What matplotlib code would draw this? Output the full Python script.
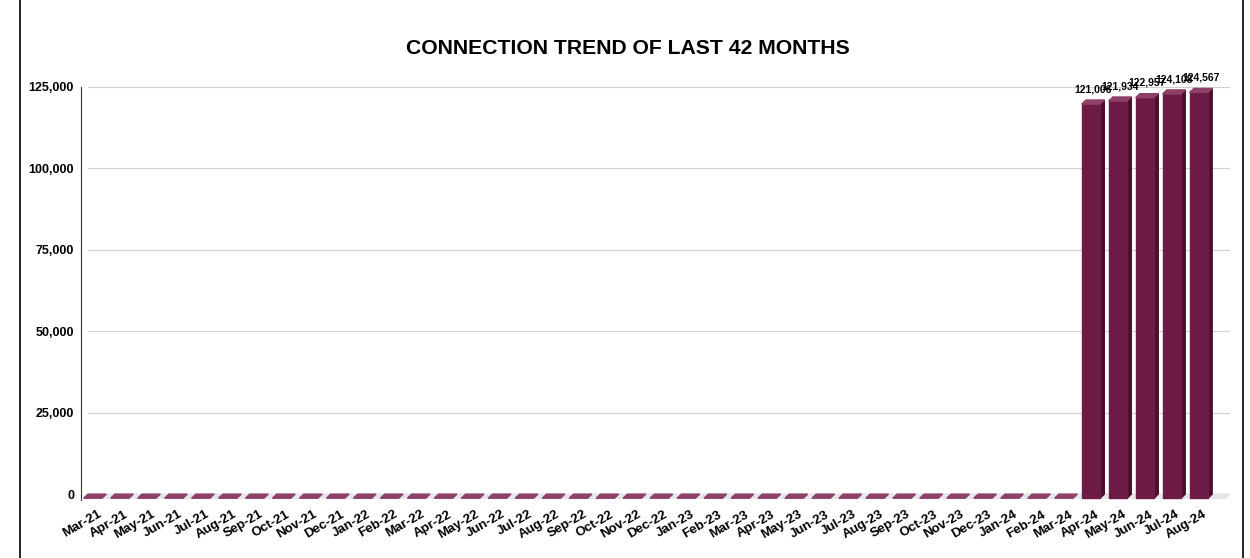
import matplotlib.pyplot as plt
from matplotlib.patches import Polygon
from matplotlib.lines import Line2D

plt.rcParams['font.family'] = ['Liberation Sans', 'DejaVu Sans']

# Monthly connections, Mar-21 .. Aug-24
months = ['Mar-21', 'Apr-21', 'May-21', 'Jun-21', 'Jul-21', 'Aug-21', 'Sep-21', 'Oct-21',
          'Nov-21', 'Dec-21', 'Jan-22', 'Feb-22', 'Mar-22', 'Apr-22', 'May-22', 'Jun-22',
          'Jul-22', 'Aug-22', 'Sep-22', 'Oct-22', 'Nov-22', 'Dec-22', 'Jan-23', 'Feb-23',
          'Mar-23', 'Apr-23', 'May-23', 'Jun-23', 'Jul-23', 'Aug-23', 'Sep-23', 'Oct-23',
          'Nov-23', 'Dec-23', 'Jan-24', 'Feb-24', 'Mar-24', 'Apr-24', 'May-24', 'Jun-24',
          'Jul-24', 'Aug-24']
connections = [0] * 37 + [121006, 121934, 122957, 124108, 124567]
y_ticks = [0, 25000, 50000, 75000, 100000, 125000]

front = '#6e1a47'
side = '#4a0f2f'
top = '#8d4068'

fig = plt.figure(figsize=(12.5, 5.58), dpi=100)
ax = fig.add_axes([81 / 1250, 58 / 558, 1149 / 1250, 413 / 558])

dx, dy = 0.16, 1250   # fake depth of the 3D bars
w = 0.68
ax.set_xlim(-0.6, 42.0)
ax.set_ylim(-1800, 125000)

# gridlines on the back wall
for t in y_ticks:
    ax.plot([-0.35, 42.0], [t, t], color='#d0d0d0', lw=0.8, zorder=0)

# floor
ax.add_patch(Polygon([(-0.35, 0), (42.0, 0), (42.0 - dx, -dy), (-0.35 - dx, -dy)],
                     closed=True, color='#e6e6e6', zorder=1, clip_on=False))

for i, v in enumerate(connections):
    x0 = i - w / 2 - dx
    x1 = i + w / 2 - dx
    y0 = -dy
    y1 = v - dy
    if v > 0:
        ax.add_patch(Polygon([(x1, y0), (x1 + dx, 0), (x1 + dx, v), (x1, y1)],
                             closed=True, color=side, zorder=2, clip_on=False))
        ax.add_patch(Polygon([(x0, y0), (x1, y0), (x1, y1), (x0, y1)],
                             closed=True, color=front, zorder=3, clip_on=False))
        ax.text(i - dx / 2, v + 1800, f'{v:,}', ha='center', va='bottom',
                fontsize=7.5, fontweight='bold', zorder=5)
    ax.add_patch(Polygon([(x0, y1), (x1, y1), (x1 + dx, v), (x0 + dx, v)],
                         closed=True, color=top, zorder=4, clip_on=False))

for s in ['top', 'right', 'bottom']:
    ax.spines[s].set_visible(False)
ax.spines['left'].set_bounds(-1800, 125000)
ax.spines['left'].set_color('#333333')

ax.set_yticks(y_ticks)
ax.set_yticklabels([f'{t:,}' for t in y_ticks], fontsize=9, fontweight='bold')
ax.set_xticks(range(len(months)))
ax.set_xticklabels(months, rotation=30, ha='right', rotation_mode='anchor',
                   fontsize=9.5, fontweight='bold')
ax.tick_params(axis='both', length=0)
ax.tick_params(axis='y', pad=5)
ax.tick_params(axis='x', pad=6)

fig.text(628 / 1250, 1 - 48 / 558, 'CONNECTION TREND OF LAST 42 MONTHS',
         ha='center', va='center', fontsize=15.2, fontweight='bold')

# outer frame
fig.add_artist(Line2D([20 / 1250, 20 / 1250], [0, 1], color='black', lw=1.2))
fig.add_artist(Line2D([1243 / 1250, 1243 / 1250], [0, 1], color='black', lw=1.2))

fig.savefig('out.png', dpi=100)
